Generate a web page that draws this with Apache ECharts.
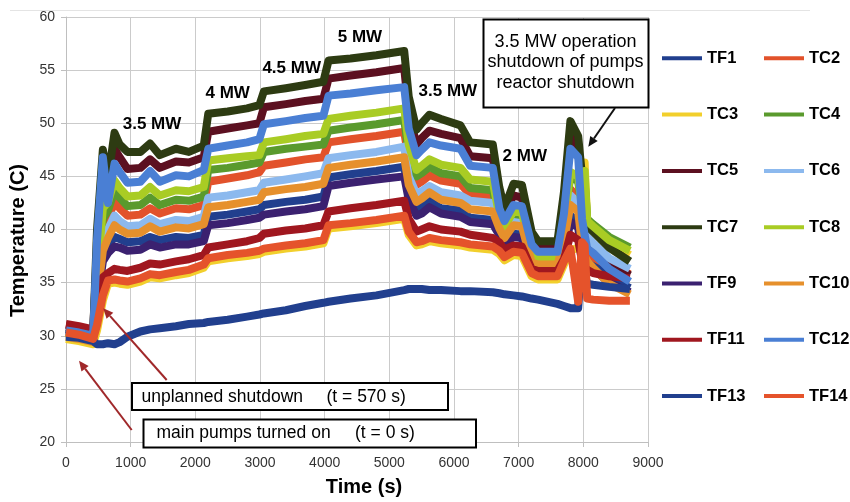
<!DOCTYPE html>
<html>
<head>
<meta charset="utf-8">
<script src="https://cdn.jsdelivr.net/npm/echarts@6/dist/echarts.min.js"></script>
<style>
html,body{margin:0;padding:0;background:#fff;}
#c{width:850px;height:502px;}
</style>
</head>
<body>
<div id="c"></div>
<script>
// time axis (s)
const T = [0,200,420,480,570,650,750,830,950,1150,
  1300,1450,1700,1900,2130,2200,2500,2800,2990,3060,
  3400,3700,3980,4060,4400,4800,5230,5300,5420,5500,
  5620,5800,6100,6250,6600,6700,6780,6920,7050,7200,
  7300,7600,7700,7800,7920,7980,8020,8060,8150,8400,
  8720];

const TF1 = [30.8,30.6,30.2,33.5,37.5,38.5,39.3,39.1,38.8,38.9,
  39.3,39.0,39.3,39.2,39.5,41.2,41.4,41.7,41.9,42.3,
  42.6,42.8,43.1,44.9,45.2,45.5,45.9,43.5,41.9,42.1,
  42.7,42.0,41.8,41.1,40.9,39.8,38.9,39.6,39.5,36.6,
  36.4,36.4,38.2,41.3,40.8,38.0,37.5,37.3,36.8,35.5,
  34.5];
const TC2 = [30.4,30.2,29.9,34.5,40.0,41.0,42.6,42.0,41.3,41.4,
  42.0,41.5,42.0,41.9,42.3,44.5,44.8,45.1,45.4,46.0,
  46.3,46.6,46.8,48.2,48.5,48.8,49.2,46.5,44.2,44.5,
  45.1,44.6,44.3,43.3,43.1,40.7,39.7,41.0,40.9,37.3,
  37.0,37.0,39.6,43.8,43.0,40.0,39.0,37.8,37.4,36.6,
  35.8];
const TC3 = [29.7,29.5,29.2,30.5,33.3,34.9,35.0,34.9,34.8,35.1,
  35.5,35.4,35.7,35.9,36.4,37.0,37.3,37.5,37.7,37.9,
  38.2,38.4,38.7,40.1,40.3,40.6,41.0,39.5,38.5,38.6,
  38.9,38.7,38.5,38.3,38.1,37.7,37.1,37.6,37.5,35.6,
  35.3,35.3,36.7,38.0,38.3,39.0,46.3,40.6,40.0,38.7,
  37.6];
const TC4 = [30.2,30.0,29.7,35.0,41.0,41.8,43.7,43.0,42.2,42.3,
  43.0,42.3,42.8,42.7,43.1,45.6,45.8,46.1,46.3,47.3,
  47.6,47.8,48.0,49.3,49.6,49.9,50.3,47.2,45.0,45.3,
  45.9,45.3,45.0,43.9,43.7,41.0,40.0,41.3,41.2,37.6,
  37.1,37.1,40.2,45.1,44.5,42.0,44.5,41.0,40.5,39.3,
  38.3];
const TC5 = [31.0,30.8,30.5,38.0,44.5,44.0,47.6,46.8,45.7,45.8,
  46.6,45.8,46.4,46.3,46.8,49.2,49.5,49.8,50.0,51.5,
  51.8,52.1,52.3,54.2,54.5,54.8,55.2,51.0,48.0,48.6,
  49.3,49.0,48.6,46.9,46.7,43.0,41.5,43.2,43.0,39.2,
  38.4,38.4,42.5,48.8,47.5,43.0,41.0,38.7,38.2,36.8,
  35.7];
const TC6 = [30.1,29.9,29.6,34.0,39.0,40.0,41.3,40.8,40.3,40.4,
  41.0,40.5,40.9,40.8,41.2,43.0,43.2,43.5,43.7,44.4,
  44.7,45.0,45.3,46.7,47.0,47.3,47.8,45.0,43.3,43.6,
  44.1,43.5,43.2,42.7,42.5,40.4,39.5,40.7,40.6,37.1,
  36.8,36.8,39.2,43.2,42.5,41.0,40.0,39.3,38.7,37.3,
  36.3];
const TC7 = [30.6,30.4,30.1,40.0,47.5,44.8,49.1,48.0,47.3,47.3,
  48.1,47.0,47.6,47.3,47.9,50.9,51.1,51.4,51.7,53.0,
  53.3,53.6,53.9,55.9,56.1,56.4,56.8,52.5,49.4,50.0,
  50.8,50.4,49.8,48.2,48.0,44.0,42.0,44.3,44.2,39.8,
  38.9,38.9,43.5,50.2,48.8,45.0,42.0,40.3,39.8,38.3,
  37.0];
const TC8 = [30.3,30.1,29.8,35.5,42.0,42.6,44.6,43.9,43.1,43.2,
  44.0,43.2,43.7,43.6,44.0,46.5,46.7,46.9,47.0,48.2,
  48.5,48.8,49.0,50.4,50.7,51.0,51.4,48.0,45.6,46.0,
  46.6,46.1,45.8,44.7,44.5,41.3,40.3,41.7,41.6,37.9,
  37.3,37.3,40.5,45.4,45.0,42.0,45.5,40.8,40.3,39.0,
  38.0];
const TF9 = [30.6,30.4,30.0,33.0,37.0,37.8,38.4,38.3,38.0,38.1,
  38.6,38.3,38.6,38.6,38.9,40.4,40.6,40.9,41.1,41.4,
  41.7,41.9,42.2,44.1,44.4,44.7,45.0,42.8,41.3,41.5,
  42.1,41.5,41.2,40.7,40.5,39.5,38.6,39.3,39.2,36.4,
  36.2,36.2,37.8,40.7,40.2,37.5,37.0,36.7,36.3,35.0,
  34.1];
const TC10 = [29.9,29.7,29.4,33.5,38.0,39.2,40.4,40.0,39.6,39.7,
  40.3,39.8,40.2,40.1,40.5,42.1,42.3,42.6,42.8,43.5,
  43.8,44.0,44.3,45.8,46.1,46.4,46.8,44.2,42.6,42.9,
  43.5,42.8,42.5,41.9,41.7,40.1,39.2,40.4,40.3,36.9,
  36.7,36.7,38.8,42.3,41.7,38.5,37.5,37.0,36.4,34.9,
  33.9];
const TF11 = [31.1,30.9,30.6,32.5,35.5,35.9,36.3,36.2,36.1,36.4,
  36.8,36.7,37.0,37.2,37.6,38.3,38.6,38.9,39.2,39.6,
  39.9,40.1,40.4,41.7,42.0,42.3,42.7,41.0,39.8,40.0,
  40.3,40.0,39.8,39.5,39.2,38.8,38.1,38.5,38.4,36.3,
  36.1,36.1,37.2,39.5,39.0,37.0,36.5,36.2,35.9,35.6,
  35.4];
const TC12 = [30.5,30.3,30.0,39.0,46.8,42.5,46.2,45.4,44.4,44.5,
  45.5,44.5,45.1,45.0,45.6,47.6,47.9,48.2,48.5,49.9,
  50.2,50.5,50.7,52.6,52.8,53.1,53.4,49.5,47.0,47.5,
  48.2,47.9,47.6,46.0,45.8,42.0,40.8,42.3,42.2,38.6,
  37.9,37.9,41.5,47.6,46.8,41.0,39.5,38.2,37.8,36.3,
  35.1];
const TF13 = [29.9,29.8,29.5,29.2,29.2,29.3,29.2,29.4,29.9,30.4,
  30.6,30.7,30.9,31.1,31.2,31.3,31.5,31.8,32.0,32.1,
  32.4,32.8,33.1,33.2,33.5,33.8,34.3,34.4,34.4,34.4,
  34.3,34.3,34.2,34.2,34.1,34.0,33.9,33.8,33.7,33.5,
  33.4,33.0,32.8,32.6,32.6,37.5,36.0,34.9,34.8,34.6,
  34.4];
const TF14 = [30.3,30.1,29.7,31.0,33.8,35.2,35.3,35.2,35.1,35.4,
  35.8,35.7,36.0,36.2,36.7,37.3,37.6,37.8,38.0,38.2,
  38.5,38.7,39.0,40.4,40.6,40.9,41.3,39.8,38.8,38.9,
  39.2,39.0,38.8,38.6,38.4,38.0,37.4,37.9,37.8,35.9,
  35.6,35.6,37.0,38.2,33.2,38.8,38.5,33.5,33.4,33.3,
  33.3];

const SERIES_NAMES = ['TF1','TC2','TC3','TC4','TC5','TC6','TC7','TC8','TF9','TC10','TF11','TC12','TF13','TF14'];
const SERIES_VALUES = [TF1,TC2,TC3,TC4,TC5,TC6,TC7,TC8,TF9,TC10,TF11,TC12,TF13,TF14];
const COLORS = ['#213f8e','#e2522b','#f2cf2c','#5a9a2d','#5c1020','#8cb9ee','#2d3b12','#a9cc24','#3b2170','#e6902c','#a0171f','#4a7fd4','#213f8e','#e5532b'];

const X_TICKS = {min:0, max:9000, interval:1000};
const Y_TICKS = {min:20, max:60, interval:5};

// power level annotations (data coordinates)
const POWER_TEXT = ['3.5 MW','4 MW','4.5 MW','5 MW','3.5 MW','2 MW'];
const POWER_T = [1330, 2500, 3490, 4545, 5905, 7095];
const POWER_TEMP = [49.9, 52.8, 55.2, 58.1, 53.0, 46.9];

const FONT = '"Liberation Sans", Arial, Helvetica, sans-serif';

const chart = echarts.init(document.getElementById('c'), null, {renderer:'canvas'});

const series = SERIES_NAMES.map((n,i)=>({
  name:n, type:'line', showSymbol:false, symbol:'none',
  data: T.map((t,k)=>[t, SERIES_VALUES[i][k]]),
  lineStyle:{width:8, color:COLORS[i], join:'round', cap:'butt'},
  itemStyle:{color:COLORS[i]},
  emphasis:{disabled:true}, silent:true, animation:false
}));

const col1 = SERIES_NAMES.filter((_,i)=>i%2===0);
const col2 = SERIES_NAMES.filter((_,i)=>i%2===1);
const legendBase = {
  orient:'vertical', top:43.3, itemWidth:40, itemHeight:4, itemGap:36.3, icon:'rect',
  selectedMode:false,
  textStyle:{fontSize:16.5, fontWeight:'bold', color:'#000', fontFamily:FONT, lineHeight:20}
};

const axisCommon = {
  axisLine:{show:true, lineStyle:{color:'#bfbfbf', width:1}},
  axisTick:{show:true, length:5, lineStyle:{color:'#bfbfbf'}},
  splitLine:{show:true, lineStyle:{color:'#cbcbcb', width:1}},
  axisLabel:{fontSize:14, color:'#333', fontFamily:FONT}
};

chart.setOption({
  animation:false,
  backgroundColor:'#ffffff',
  grid:{left:66, right:202, top:17, bottom:56, containLabel:false},
  legend:[
    Object.assign({}, legendBase, {left:657, data:col1}),
    Object.assign({}, legendBase, {left:759, data:col2})
  ],
  xAxis: Object.assign({}, axisCommon, {
    type:'value', min:X_TICKS.min, max:X_TICKS.max, interval:X_TICKS.interval,
    name:'Time (s)', nameLocation:'middle', nameGap:35,
    nameTextStyle:{fontSize:20, fontWeight:'bold', color:'#000', fontFamily:FONT, padding:[0,0,0,14]},
    axisLabel:Object.assign({}, axisCommon.axisLabel, {margin:14, formatter:(v)=>String(v)})
  }),
  yAxis: Object.assign({}, axisCommon, {
    type:'value', min:Y_TICKS.min, max:Y_TICKS.max, interval:Y_TICKS.interval,
    name:'Temperature (C)', nameLocation:'middle', nameGap:34,
    nameTextStyle:{fontSize:20, fontWeight:'bold', color:'#000', fontFamily:FONT, padding:[0,22,0,0]},
    axisLabel:Object.assign({}, axisCommon.axisLabel, {margin:11, formatter:(v)=>String(v)})
  }),
  series: series
});

function arrow(x1,y1,x2,y2,color){
  const a = Math.atan2(y2-y1, x2-x1);
  const L = 10, W = 4.5;
  const bx = x2 - L*Math.cos(a), by = y2 - L*Math.sin(a);
  return [
    {type:'line', shape:{x1:x1,y1:y1,x2:bx,y2:by}, style:{stroke:color, lineWidth:2}, z:100},
    {type:'polygon', shape:{points:[[x2,y2],[bx+W*Math.sin(a), by-W*Math.cos(a)],[bx-W*Math.sin(a), by+W*Math.cos(a)]]}, style:{fill:color}, z:100}
  ];
}
function txt(x,y,s,opts){
  return Object.assign({type:'text', x:x, y:y, z:101, style:Object.assign({
    text:s, fontSize:17.5, fontFamily:FONT, fill:'#000',
    align:'left', verticalAlign:'middle', textAlign:'left', textVerticalAlign:'middle'
  }, opts||{})});
}
function box(x,y,w,h){
  return {type:'rect', shape:{x:x,y:y,width:w,height:h}, style:{fill:'#fff', stroke:'#000', lineWidth:2}, z:100};
}

const g = [];
// faint outer frame line at top
g.push({type:'line', shape:{x1:10,y1:10.5,x2:810,y2:10.5}, style:{stroke:'#e4e4e4', lineWidth:1}, z:1});

POWER_TEXT.forEach((s,i)=>{
  const p = chart.convertToPixel({gridIndex:0}, [POWER_T[i], POWER_TEMP[i]]);
  g.push(txt(p[0], p[1], s, {fontSize:17, fontWeight:'bold', align:'center', textAlign:'center'}));
});

// callout: shutdown
g.push(box(483.5,19.5,165,88));
g.push(txt(565.5,41.7,'3.5 MW operation',{fontSize:18, align:'center', textAlign:'center'}));
g.push(txt(565.5,62.4,'shutdown of pumps',{fontSize:18, align:'center', textAlign:'center'}));
g.push(txt(565.5,83.0,'reactor shutdown',{fontSize:18, align:'center', textAlign:'center'}));
arrow(615,108,588.3,146.7,'#111').forEach(e=>g.push(e));

// callout: unplanned shutdown
g.push(box(132,383,316,27));
g.push(txt(141.5,396.7,'unplanned shutdown'));
g.push(txt(326.5,396.7,'(t = 570 s)'));
arrow(166.7,380,103.3,308.3,'#a0282a').forEach(e=>g.push(e));

// callout: main pumps on
g.push(box(143.5,419.5,332.5,28));
g.push(txt(156.5,432.8,'main pumps turned on'));
g.push(txt(355,432.8,'(t = 0 s)'));
arrow(131.7,430,79,360.7,'#a0282a').forEach(e=>g.push(e));

chart.setOption({graphic:g});
</script>
</body>
</html>
